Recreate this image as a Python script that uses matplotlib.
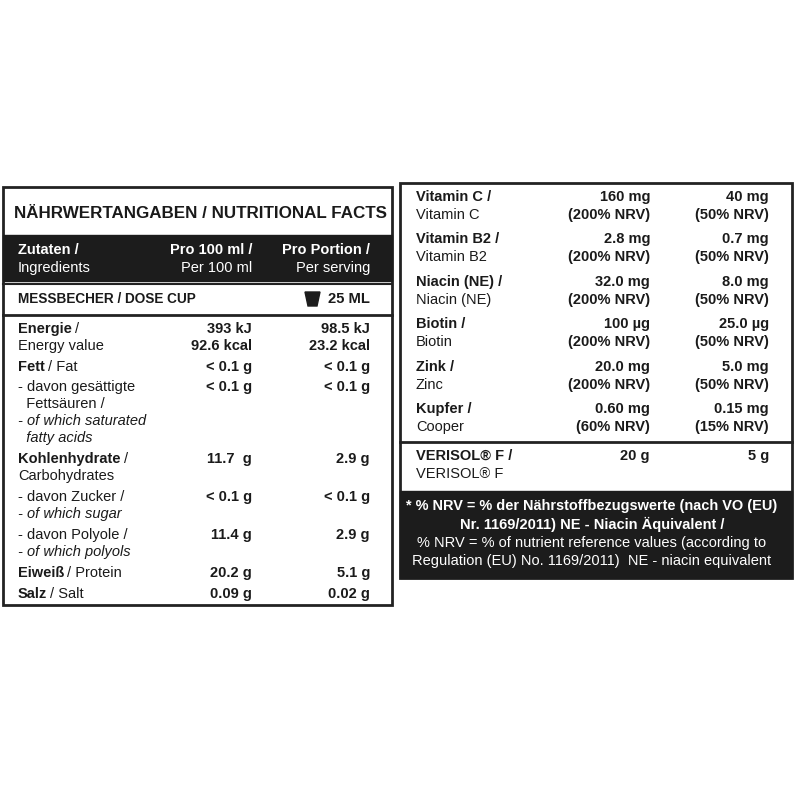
import matplotlib
matplotlib.use("Agg")
import matplotlib.pyplot as plt
from matplotlib.patches import Rectangle, Polygon
from matplotlib import font_manager

names = {f.name for f in font_manager.fontManager.ttflist}
FONT = "Liberation Sans Narrow" if "Liberation Sans Narrow" in names else "Liberation Sans"
plt.rcParams["font.family"] = [FONT, "DejaVu Sans"]

TITLE = "NÄHRWERTANGABEN / NUTRITIONAL FACTS"
HEAD_BOLD = ["Zutaten /", "Pro 100 ml /", "Pro Portion /"]
HEAD_REG = ["Ingredients", "Per 100 ml", "Per serving"]
DOSE_LABEL = "MESSBECHER / DOSE CUP"
DOSE_VALUE = "25 ML"

# left table lines: (y, [(text, weight, style)...], per100, perportion)
LEFT_ROWS = [
    (329, [("Energie", "bold", "normal"), ("/", "normal", "normal")], "393 kJ", "98.5 kJ"),
    (346, [("Energy value", "normal", "normal")], "92.6 kcal", "23.2 kcal"),
    (367, [("Fett", "bold", "normal"), ("/ Fat", "normal", "normal")], "< 0.1 g", "< 0.1 g"),
    (387, [("- davon gesättigte", "normal", "normal")], "< 0.1 g", "< 0.1 g"),
    (404, [("  Fettsäuren /", "normal", "normal")], "", ""),
    (421, [("- of which saturated", "normal", "italic")], "", ""),
    (438, [("  fatty acids", "normal", "italic")], "", ""),
    (459, [("Kohlenhydrate", "bold", "normal"), ("/", "normal", "normal")], "11.7  g", "2.9 g"),
    (476, [("Carbohydrates", "normal", "normal")], "", ""),
    (497, [("- davon Zucker /", "normal", "normal")], "< 0.1 g", "< 0.1 g"),
    (514, [("- of which sugar", "normal", "italic")], "", ""),
    (535, [("- davon Polyole /", "normal", "normal")], "11.4 g", "2.9 g"),
    (552, [("- of which polyols", "normal", "italic")], "", ""),
    (573, [("Eiweiß", "bold", "normal"), ("/ Protein", "normal", "normal")], "20.2 g", "5.1 g"),
    (594, [("Salz", "bold", "normal"), ("/ Salt", "normal", "normal")], "0.09 g", "0.02 g"),
]

VIT_DE = ["Vitamin C /", "Vitamin B2 /", "Niacin (NE) /", "Biotin /", "Zink /", "Kupfer /"]
VIT_EN = ["Vitamin C", "Vitamin B2", "Niacin (NE)", "Biotin", "Zinc", "Cooper"]
VIT_100 = ["160 mg", "2.8 mg", "32.0 mg", "100 µg", "20.0 mg", "0.60 mg"]
VIT_100_NRV = ["(200% NRV)", "(200% NRV)", "(200% NRV)", "(200% NRV)", "(200% NRV)", "(60% NRV)"]
VIT_PORT = ["40 mg", "0.7 mg", "8.0 mg", "25.0 µg", "5.0 mg", "0.15 mg"]
VIT_PORT_NRV = ["(50% NRV)", "(50% NRV)", "(50% NRV)", "(50% NRV)", "(50% NRV)", "(15% NRV)"]

FOOT_BOLD = ["* % NRV = % der Nährstoffbezugswerte (nach VO (EU)",
             "Nr. 1169/2011) NE - Niacin Äquivalent /"]
FOOT_REG = ["% NRV = % of nutrient reference values (according to",
            "Regulation (EU) No. 1169/2011)  NE - niacin equivalent"]

FS = 10.5
fig = plt.figure(figsize=(8, 8), dpi=100)
ax = fig.add_axes([0, 0, 1, 1])
ax.set_xlim(0, 800)
ax.set_ylim(800, 0)
ax.axis("off")
fig.canvas.draw()
rend = fig.canvas.get_renderer()
inv = ax.transData.inverted()


def width(t):
    bb = t.get_window_extent(renderer=rend)
    return bb.x1 - bb.x0


def txt(x, y, s, ha="left", weight="normal", style="normal", color="#1a1a1a", size=FS, maxw=None):
    t = ax.text(x, y, s, ha=ha, va="center", fontweight=weight, fontstyle=style,
                color=color, fontsize=size)
    if maxw is not None:
        w = width(t)
        if w > maxw:
            t.set_fontsize(size * maxw / w)
    return t


# ---- left panel
ax.add_patch(Rectangle((3, 187), 389, 418, fill=False, ec="#222", lw=2))
txt(14, 213, TITLE, weight="bold", size=19, maxw=374)
ax.add_patch(Rectangle((3, 235), 389, 46, color="#1c1c1c"))
for x, ha, b, r in zip([18, 252, 370], ["left", "right", "right"], HEAD_BOLD, HEAD_REG):
    txt(x, 250, b, ha=ha, weight="bold", color="white")
    txt(x, 268, r, ha=ha, color="white")
ax.plot([3, 392], [284, 284], color="#222", lw=1.5)
txt(18, 299, DOSE_LABEL, weight="bold", size=12.5, maxw=178)
ax.add_patch(Polygon([[305, 292], [320, 292], [317, 306], [308, 306]], color="#1c1c1c"))
txt(370, 299, DOSE_VALUE, ha="right", weight="bold", size=12.5, maxw=42)
ax.plot([3, 392], [315, 315], color="#222", lw=2)

for y, parts, v1, v2 in LEFT_ROWS:
    x = 18
    for s, w, st in parts:
        t = txt(x, y, s, weight=w, style=st, maxw=150)
        bb = t.get_window_extent(renderer=rend)
        x = inv.transform((bb.x1, bb.y0))[0] + 3
    txt(252, y, v1, ha="right", weight="bold")
    txt(370, y, v2, ha="right", weight="bold")

# ---- right panel
ax.add_patch(Rectangle((400, 183), 392, 395, fill=False, ec="#222", lw=2))
for i in range(len(VIT_DE)):
    y = 197 + i * 42.4
    txt(416, y, VIT_DE[i], weight="bold")
    txt(416, y + 18, VIT_EN[i])
    txt(650, y, VIT_100[i], ha="right", weight="bold")
    txt(650, y + 18, VIT_100_NRV[i], ha="right", weight="bold")
    txt(769, y, VIT_PORT[i], ha="right", weight="bold")
    txt(769, y + 18, VIT_PORT_NRV[i], ha="right", weight="bold")
ax.plot([400, 792], [442, 442], color="#222", lw=2)
txt(416, 456, "VERISOL® F /", weight="bold")
txt(416, 474, "VERISOL® F")
txt(650, 456, "20 g", ha="right", weight="bold")
txt(769, 456, "5 g", ha="right", weight="bold")
ax.add_patch(Rectangle((400, 491), 392, 87, color="#1c1c1c"))
for i, s in enumerate(FOOT_BOLD):
    txt(592, 506 + i * 18, s, ha="center", weight="bold", color="white", maxw=372)
for i, s in enumerate(FOOT_REG):
    txt(592, 543 + i * 18, s, ha="center", color="white", maxw=372)

fig.savefig("out.png", dpi=100)
